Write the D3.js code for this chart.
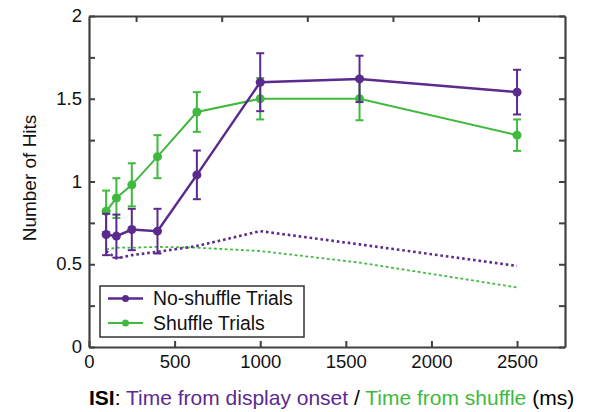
<!DOCTYPE html>
<html>
<head>
<meta charset="utf-8">
<script src="https://cdn.jsdelivr.net/npm/d3@7"></script>
<style>
  body { margin: 0; background: #fff; }
  svg { font-family: "Liberation Sans", Arial, Helvetica, sans-serif; }
</style>
</head>
<body>
<div id="chart"></div>
<script>
// ISI values (ms)
var isi = [100, 160, 250, 400, 630, 1000, 1580, 2500];
// no-shuffle trials: mean hits and error
var noShuffle = [0.68, 0.67, 0.71, 0.70, 1.04, 1.60, 1.62, 1.54];
var noShuffleErr = [0.125, 0.13, 0.125, 0.135, 0.147, 0.175, 0.14, 0.135];
// shuffle trials
var shuffle = [0.82, 0.90, 0.98, 1.15, 1.42, 1.50, 1.50, 1.28];
var shuffleErr = [0.125, 0.12, 0.13, 0.13, 0.12, 0.125, 0.13, 0.095];
// chance levels (dotted lines)
var noShuffleChance = [0.58, 0.535, 0.555, 0.575, 0.61, 0.70, 0.62, 0.49];
var shuffleChance = [0.59, 0.60, 0.60, 0.605, 0.60, 0.58, 0.51, 0.36];
// axis ticks
var xTicks = [0, 500, 1000, 1500, 2000, 2500];
var xTopTicks = [275, 775, 1275, 1775, 2275];
var yTicks = [0, 0.25, 0.5, 0.75, 1, 1.25, 1.5, 1.75, 2];
var yLabels = [0, 0.5, 1, 1.5, 2];

var purple = "#5b2a8e";
var green = "#3fba3f";
var axisColor = "#404040";

var W = 595, H = 412;
var margin = { top: 16, right: 30, bottom: 65, left: 89 };
var width = W - margin.left - margin.right,
  height = H - margin.top - margin.bottom;

var svg = d3.select("#chart").append("svg")
  .attr("width", W).attr("height", H)
  .append("g")
  .attr("transform", "translate(" + margin.left + "," + margin.top + ")");

var x = d3.scaleLinear().domain([0, 2780]).range([0, width]);
var y = d3.scaleLinear().domain([0, 2]).range([height, 0]);

// axes (ticks pointing inward)
function fmt(d) { return yLabels.indexOf(d) >= 0 ? d3.format("")(d) : ""; }

var axBottom = svg.append("g").attr("transform", "translate(0," + height + ")")
  .call(d3.axisBottom(x).tickValues(xTicks).tickFormat(d3.format("d")).tickSizeInner(-6).tickSizeOuter(0));
var axLeft = svg.append("g")
  .call(d3.axisLeft(y).tickValues(yTicks).tickFormat(fmt).tickSizeInner(-6).tickSizeOuter(0).tickPadding(7));
var axTop = svg.append("g")
  .call(d3.axisTop(x).tickValues(xTopTicks).tickFormat("").tickSizeInner(-6).tickSizeOuter(0));
var axRight = svg.append("g").attr("transform", "translate(" + width + ",0)")
  .call(d3.axisRight(y).tickValues(yTicks).tickFormat("").tickSizeInner(-6).tickSizeOuter(0));

[axBottom, axLeft, axTop, axRight].forEach(function (g) {
  g.select(".domain").attr("stroke", axisColor).attr("stroke-width", 2.2);
  g.selectAll(".tick line").attr("stroke", axisColor).attr("stroke-width", 2);
  g.selectAll("text").attr("fill", "#111").style("font-size", "18.5px")
    .style("font-family", "'Liberation Sans', Arial, sans-serif");
});
axLeft.selectAll("text").attr("dy", "0.3em");
axBottom.selectAll("text").attr("y", 21).attr("dy", 0);

// dotted chance lines
var line = d3.line().x(function (d) { return x(d[0]); }).y(function (d) { return y(d[1]); });

svg.append("path")
  .datum(d3.zip(isi, shuffleChance))
  .attr("d", line).attr("fill", "none")
  .attr("stroke", green).attr("stroke-width", 1.8).attr("stroke-dasharray", "2.8,2.6");
svg.append("path")
  .datum(d3.zip(isi, noShuffleChance))
  .attr("d", line).attr("fill", "none")
  .attr("stroke", purple).attr("stroke-width", 2.6).attr("stroke-dasharray", "2.6,2.9");

// series with error bars
function drawSeries(vals, errs, color, lw) {
  var data = d3.zip(isi, vals, errs);
  var g = svg.append("g");
  g.append("path").datum(data).attr("d", line).attr("fill", "none")
    .attr("stroke", color).attr("stroke-width", lw);
  var eb = g.selectAll(".eb").data(data).enter().append("g").attr("stroke", color).attr("stroke-width", 2);
  eb.append("line")
    .attr("x1", function (d) { return x(d[0]); }).attr("x2", function (d) { return x(d[0]); })
    .attr("y1", function (d) { return y(d[1] - d[2]); }).attr("y2", function (d) { return y(d[1] + d[2]); });
  [-1, 1].forEach(function (s) {
    eb.append("line")
      .attr("x1", function (d) { return x(d[0]) - 4; }).attr("x2", function (d) { return x(d[0]) + 4; })
      .attr("y1", function (d) { return y(d[1] + s * d[2]); }).attr("y2", function (d) { return y(d[1] + s * d[2]); });
  });
  g.selectAll("circle").data(data).enter().append("circle")
    .attr("cx", function (d) { return x(d[0]); }).attr("cy", function (d) { return y(d[1]); })
    .attr("r", 4.5).attr("fill", color);
}
drawSeries(shuffle, shuffleErr, green, 2);
drawSeries(noShuffle, noShuffleErr, purple, 2.5);

// legend
var legendItems = [["No-shuffle Trials", purple, 2.5], ["Shuffle Trials", green, 2]];
var lg = svg.append("g").attr("transform", "translate(" + (100 - margin.left) + "," + (286 - margin.top) + ")");
lg.append("rect").attr("width", 204).attr("height", 51)
  .attr("fill", "#fff").attr("stroke", "#333").attr("stroke-width", 1.5);
var li = lg.selectAll(".li").data(legendItems).enter().append("g")
  .attr("transform", function (d, i) { return "translate(0," + (12.5 + i * 24.5) + ")"; });
li.append("line").attr("x1", 8).attr("x2", 43)
  .attr("stroke", function (d) { return d[1]; }).attr("stroke-width", function (d) { return d[2]; });
li.append("circle").attr("cx", 25.5).attr("r", 3.5).attr("fill", function (d) { return d[1]; });
li.append("text").attr("x", 53).attr("dy", "0.36em")
  .style("font-size", "19.4px").attr("fill", "#111").text(function (d) { return d[0]; });

// axis titles
svg.append("text")
  .attr("transform", "translate(" + (29 - margin.left) + "," + (178 - margin.top) + ")rotate(-90)")
  .attr("text-anchor", "middle").attr("dy", "0.35em")
  .style("font-size", "19px").attr("fill", "#111").text("Number of Hits");

var xt = svg.append("text")
  .attr("x", 89 - margin.left).attr("y", 405 - margin.top)
  .attr("text-anchor", "start").style("font-size", "21px");
xt.append("tspan").attr("fill", "#000").style("font-weight", "bold").text("ISI");
xt.append("tspan").attr("fill", "#000").text(": ");
xt.append("tspan").attr("fill", purple).text("Time from display onset");
xt.append("tspan").attr("fill", "#000").text(" / ");
xt.append("tspan").attr("fill", green).text("Time from shuffle");
xt.append("tspan").attr("fill", "#000").text(" (ms)");
</script>
</body>
</html>
